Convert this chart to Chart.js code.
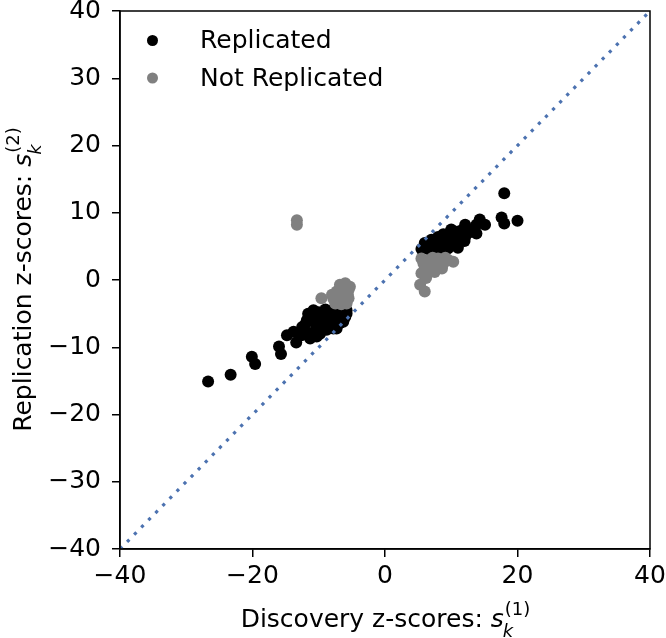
<!DOCTYPE html>
<html>
<head>
<meta charset="utf-8">
<script src="https://cdn.jsdelivr.net/npm/chart.js@4/dist/chart.umd.min.js"></script>
<style>
html, body { margin: 0; padding: 0; background: #ffffff; }
#wrap { width: 666px; height: 638px; position: relative; }
</style>
</head>
<body>
<div id="wrap"><canvas id="c" width="666" height="638"></canvas></div>
<script>
// ---------- data ----------
const axisLimits = [-40, 40];
const xTickValues = [-40, -20, 0, 20, 40];
const yTickValues = [-40, -30, -20, -10, 0, 10, 20, 30, 40];
const seriesLabels = ['Replicated', 'Not Replicated'];
const xTitleText = 'Discovery z-scores: ';
const yTitleText = 'Replication z-scores: ';
const mathBase = 's', mathSub = 'k', xMathSup = '(1)', yMathSup = '(2)';

const replicatedX = [
  -26.7, -23.3, -20.1, -19.6, -16.0, -15.7, -14.8, -13.8, -13.4, -12.6,
  -12.1, -11.3, -11.6, -10.3, -10.3, -10.1, -9.3, -8.8, -7.8, -7.3,
  -6.3, -5.8, -8.0, -10.8, -11.8, -9.8, -7.8, -5.8, -11.3, -8.8,
  -6.8, -9.5, -7.0, -6.0, -10.5, -12.5, -9.0, -6.5, -8.5, -7.3,
  -10.0, -8.5, -7.5, -9.2, -11.0, -6.8, -9.8, -8.2, -6.2, -10.8,
  18.0, 17.6, 18.0, 20.0, 14.3, 13.8, 12.1, 15.1, 11.1, 9.6,
  8.0, 13.1, 6.0, 8.0, 10.1, 12.1, 13.8, 6.3, 5.5, 11.3,
  9.3, 7.0, 9.0, 10.5, 11.0, 8.5, 7.5, 10.0, 12.5, 6.5, 9.5,
  7.5, 8.5, 9.8, 11.8, 6.8, 10.5, 12.0, 8.8, 7.2, 10.8
];
const replicatedY = [
  -15.1, -14.1, -11.4, -12.5, -9.9, -11.0, -8.2, -7.7, -9.3, -8.2,
  -6.7, -8.7, -5.0, -7.4, -8.4, -5.7, -5.0, -6.4, -7.2, -5.0,
  -6.2, -4.5, -4.5, -4.5, -6.0, -5.0, -5.5, -5.0, -7.9, -7.4,
  -6.4, -6.0, -4.2, -5.5, -6.5, -7.0, -4.4, -4.2, -5.8, -7.2,
  -4.8, -5.0, -6.3, -7.0, -5.5, -5.2, -8.0, -6.0, -5.0, -7.8,
  12.9, 9.3, 8.4, 8.8, 9.0, 8.2, 8.2, 8.2, 7.2, 6.9,
  6.4, 7.4, 5.5, 5.2, 5.7, 6.4, 6.9, 5.0, 4.6, 5.7,
  5.5, 6.0, 6.2, 6.5, 4.8, 4.7, 4.6, 7.5, 7.0, 4.6, 4.7,
  5.8, 5.8, 6.3, 7.5, 4.8, 5.2, 5.8, 6.8, 5.3, 6.0
];
const notReplicatedX = [
  -13.3, -13.3,
  -9.6, -8.0, -6.8, -6.0, -5.5, -5.5, -6.5, -7.5, -5.8, -7.3, -6.3, -6.8, -7.0,
  -5.3, -6.2, -7.8, -5.6, -6.6,
  10.3, 8.6, 6.8, 5.8, 5.5, 7.5, 8.0, 9.1, 5.3, 6.0, 6.5, 7.0, 6.0, 8.0, 9.5, 5.5, 6.2, 7.2,
  8.8, 6.4, 7.8
];
const notReplicatedY = [
  8.9, 8.2,
  -2.7, -2.2, -0.7, -0.5, -1.5, -2.7, -3.2, -3.5, -3.5, -1.7, -2.0, -1.3, -2.8,
  -1.0, -1.2, -2.8, -2.2, -3.6,
  2.7, 1.7, 3.0, 2.5, 1.0, 1.2, 3.2, 3.3, -0.7, -1.7, 2.0, 2.4, 1.8, 2.6, 3.0, 3.2, 0.3, 3.3,
  2.4, 1.0, 1.9
];

// ---------- styles ----------
const FONT = '"DejaVu Sans", sans-serif';
const FS = 25;
const COL_REP = '#000000';
const COL_NOT = '#808080';
const COL_DIAG = '#4c72b0';
const PT_R = 6;

const toPts = (xs, ys) => xs.map((x, i) => ({ x: x, y: ys[i] }));
const diagPts = axisLimits.map(v => ({ x: v, y: v }));
const minusFmt = v => String(v).replace('-', '\u2212');

function drawMathTitle(ctx, text, sup, cx, by) {
  const small = Math.round(FS * 0.7);
  ctx.font = FS + 'px ' + FONT;
  const w1 = ctx.measureText(text).width;
  ctx.font = 'italic ' + FS + 'px ' + FONT;
  const w2 = ctx.measureText(mathBase).width;
  ctx.font = 'italic ' + small + 'px ' + FONT;
  const w3 = ctx.measureText(mathSub).width;
  ctx.font = small + 'px ' + FONT;
  const w4 = ctx.measureText(sup).width;
  const total = w1 + w2 + Math.max(w3, w4);
  let x = cx - total / 2;
  ctx.textAlign = 'left';
  ctx.textBaseline = 'alphabetic';
  ctx.fillStyle = '#000';
  ctx.font = FS + 'px ' + FONT;
  ctx.fillText(text, x, by); x += w1;
  ctx.font = 'italic ' + FS + 'px ' + FONT;
  ctx.fillText(mathBase, x, by); x += w2;
  ctx.font = 'italic ' + small + 'px ' + FONT;
  ctx.fillText(mathSub, x - 1, by + 10);
  ctx.font = small + 'px ' + FONT;
  ctx.fillText(sup, x + 1, by - 12);
}

const decor = {
  id: 'decor',
  afterDraw(chart) {
    const ctx = chart.ctx, a = chart.chartArea;
    ctx.save();
    ctx.strokeStyle = '#000';
    ctx.lineWidth = 1.5;
    ctx.strokeRect(a.left, a.top, a.right - a.left, a.bottom - a.top);
    // legend
    const legendItems = [[seriesLabels[0], COL_REP, 40.5], [seriesLabels[1], COL_NOT, 78]];
    legendItems.forEach(([lab, col, y]) => {
      ctx.beginPath();
      ctx.fillStyle = col;
      ctx.arc(152.5, y, PT_R - 0.5, 0, Math.PI * 2);
      ctx.fill();
      ctx.fillStyle = '#000';
      ctx.font = FS + 'px ' + FONT;
      ctx.textAlign = 'left';
      ctx.textBaseline = 'middle';
      ctx.fillText(lab, 200, y + 1);
    });
    // x title
    drawMathTitle(ctx, xTitleText, xMathSup, (a.left + a.right) / 2, 627);
    // y title
    ctx.translate(31, (a.top + a.bottom) / 2);
    ctx.rotate(-Math.PI / 2);
    drawMathTitle(ctx, yTitleText, yMathSup, 0, 0);
    ctx.restore();
  }
};

new Chart(document.getElementById('c'), {
  data: {
    datasets: [
      {
        type: 'line',
        label: 'diag',
        data: diagPts,
        borderColor: COL_DIAG,
        borderWidth: 3.2,
        borderDash: [3.2, 6.9],
        borderCapStyle: 'butt',
        pointRadius: 0,
        fill: false
      },
      {
        type: 'scatter',
        label: seriesLabels[1],
        data: toPts(notReplicatedX, notReplicatedY),
        backgroundColor: COL_NOT,
        borderWidth: 0,
        pointRadius: PT_R
      },
      {
        type: 'scatter',
        label: seriesLabels[0],
        data: toPts(replicatedX, replicatedY),
        backgroundColor: COL_REP,
        borderWidth: 0,
        pointRadius: PT_R
      }
    ]
  },
  options: {
    responsive: false,
    animation: false,
    devicePixelRatio: 1,
    layout: { padding: { top: 11, right: 16, left: 0, bottom: 0 } },
    plugins: { legend: { display: false }, tooltip: { enabled: false } },
    scales: {
      x: {
        type: 'linear',
        min: axisLimits[0], max: axisLimits[1],
        afterBuildTicks: s => { s.ticks = xTickValues.map(v => ({ value: v })); },
        afterFit: s => { s.height = 89; s.paddingLeft = 0; s.paddingRight = 0; },
        grid: { drawOnChartArea: false, drawTicks: true, tickLength: 8, color: '#000', lineWidth: 1.5 },
        border: { display: true, color: '#000', width: 1.5 },
        ticks: { color: '#000', font: { family: FONT, size: FS, lineHeight: 0.9 }, padding: 8, maxRotation: 0, callback: minusFmt }
      },
      y: {
        type: 'linear',
        min: axisLimits[0], max: axisLimits[1],
        afterBuildTicks: s => { s.ticks = yTickValues.map(v => ({ value: v })); },
        afterFit: s => { s.width = 120; s.paddingTop = 0; s.paddingBottom = 0; },
        grid: { drawOnChartArea: false, drawTicks: true, tickLength: 8, color: '#000', lineWidth: 1.5 },
        border: { display: true, color: '#000', width: 1.5 },
        ticks: { color: '#000', font: { family: FONT, size: FS, lineHeight: 0.9 }, padding: 11, callback: minusFmt }
      }
    }
  },
  plugins: [decor]
});
</script>
</body>
</html>
